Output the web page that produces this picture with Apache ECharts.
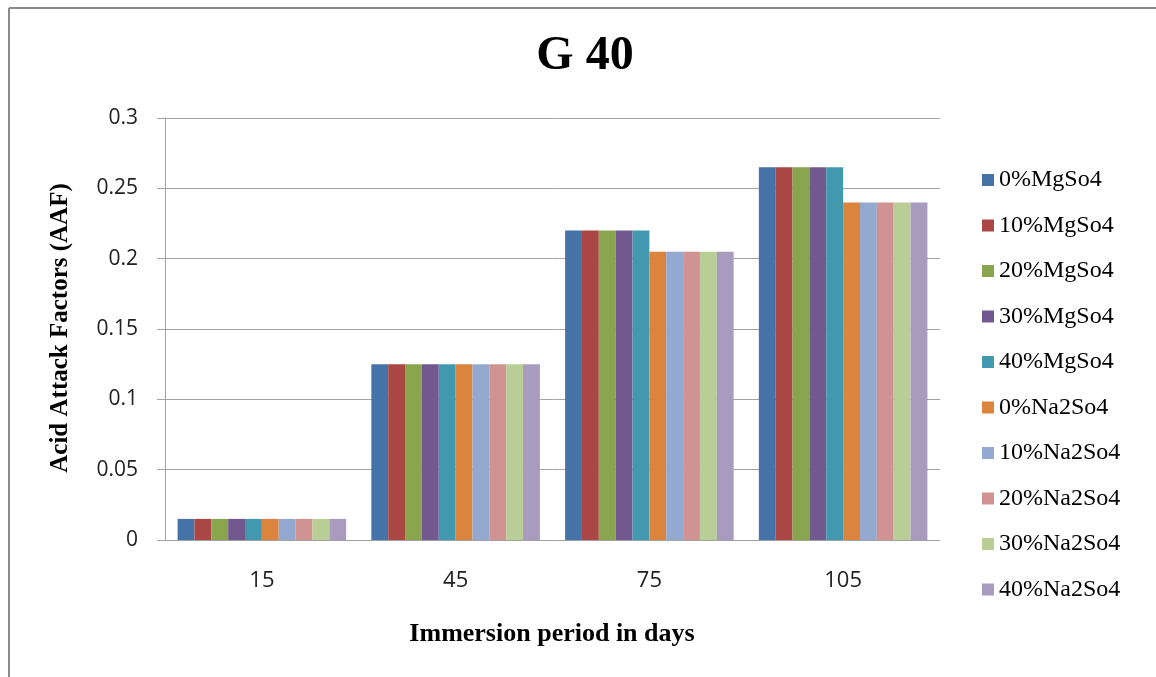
<!DOCTYPE html>
<html>
<head>
<meta charset="utf-8">
<script src="https://cdn.jsdelivr.net/npm/echarts@6/dist/echarts.min.js"></script>
<style>
  html, body { margin: 0; padding: 0; background: #fff; }
  #chart { width: 1156px; height: 677px; }
</style>
</head>
<body>
<div id="chart"></div>
<script>
// Immersion periods (days)
const categories = ['15', '45', '75', '105'];

// Acid attack factor per solution
const mgSo4_0  = [0.015, 0.125, 0.220, 0.265];
const mgSo4_10 = [0.015, 0.125, 0.220, 0.265];
const mgSo4_20 = [0.015, 0.125, 0.220, 0.265];
const mgSo4_30 = [0.015, 0.125, 0.220, 0.265];
const mgSo4_40 = [0.015, 0.125, 0.220, 0.265];
const na2So4_0  = [0.015, 0.125, 0.205, 0.240];
const na2So4_10 = [0.015, 0.125, 0.205, 0.240];
const na2So4_20 = [0.015, 0.125, 0.205, 0.240];
const na2So4_30 = [0.015, 0.125, 0.205, 0.240];
const na2So4_40 = [0.015, 0.125, 0.205, 0.240];

const seriesNames = ['0%MgSo4', '10%MgSo4', '20%MgSo4', '30%MgSo4', '40%MgSo4',
                     '0%Na2So4', '10%Na2So4', '20%Na2So4', '30%Na2So4', '40%Na2So4'];
const seriesValues = [mgSo4_0, mgSo4_10, mgSo4_20, mgSo4_30, mgSo4_40,
                      na2So4_0, na2So4_10, na2So4_20, na2So4_30, na2So4_40];
const yTicks = { min: 0, max: 0.3, step: 0.05 };

const palette = ['#4572A7', '#AA4643', '#89A54E', '#71588F', '#4198AF',
                 '#DB843D', '#93A9CF', '#D19392', '#B9CD96', '#A99BBD'];

const serif = '"Liberation Serif", "Times New Roman", serif';
const sans = '"Open Sans", "Liberation Sans", sans-serif';
const gridColor = '#a3a3a3';

const chart = echarts.init(document.getElementById('chart'), null, { renderer: 'canvas' });

chart.setOption({
  animation: false,
  backgroundColor: '#ffffff',
  color: palette,
  grid: { left: 165, right: 216, top: 118, bottom: 137, containLabel: false },
  legend: {
    orient: 'vertical',
    left: 982,
    top: 168,
    itemWidth: 12,
    itemHeight: 12,
    itemGap: 21.5,
    itemTextGap: 7,
    icon: 'rect',
    padding: 0,
    textStyle: { fontFamily: serif, fontSize: 24, color: '#000', lineHeight: 24, padding: [0, 0, 0, 0] },
    data: seriesNames
  },
  xAxis: {
    type: 'category',
    data: categories,
    axisLine: { show: true, lineStyle: { color: gridColor, width: 1 } },
    axisTick: { show: false },
    axisLabel: { fontFamily: sans, fontSize: 22, color: '#222', margin: 30 },
    splitLine: { show: false }
  },
  yAxis: {
    type: 'value',
    min: yTicks.min,
    max: yTicks.max,
    interval: yTicks.step,
    axisLine: { show: true, lineStyle: { color: gridColor, width: 1 } },
    axisTick: { show: true, inside: false, length: 8, lineStyle: { color: gridColor } },
    axisLabel: { fontFamily: sans, fontSize: 21, color: '#222', margin: 27 },
    splitLine: { show: true, lineStyle: { color: gridColor, width: 1 } }
  },
  series: seriesNames.map((name, i) => ({
    name: name,
    type: 'bar',
    data: seriesValues[i],
    barGap: '0%',
    barCategoryGap: '13%',
    itemStyle: { color: palette[i] }
  })),
  graphic: [
    { type: 'line', shape: { x1: 9, y1: 8, x2: 1156, y2: 8 }, style: { stroke: '#8a8a8a', lineWidth: 2 } },
    { type: 'line', shape: { x1: 9, y1: 8, x2: 9, y2: 677 }, style: { stroke: '#8a8a8a', lineWidth: 2 } },
    { type: 'text', x: 585, y: 57, style: { text: 'G 40', font: 'bold 48px ' + serif, fill: '#000', textAlign: 'center', textVerticalAlign: 'middle' } },
    { type: 'text', x: 552, y: 634, style: { text: 'Immersion period in days', font: 'bold 26px ' + serif, fill: '#000', textAlign: 'center', textVerticalAlign: 'middle' } },
    { type: 'text', x: 61, y: 328, rotation: Math.PI / 2, style: { text: 'Acid Attack Factors (AAF)', font: 'bold 25px ' + serif, fill: '#000', textAlign: 'center', textVerticalAlign: 'middle' } }
  ]
});
</script>
</body>
</html>
